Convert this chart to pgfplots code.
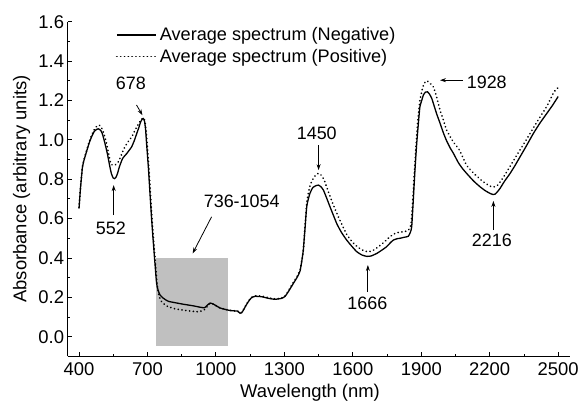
\documentclass[border=0pt]{standalone}
\usepackage{pgfplots}
\pgfplotsset{compat=1.18}
\usepackage{fontspec}
\setmainfont{Liberation Sans}
\usetikzlibrary{arrows.meta}
\definecolor{boxgray}{RGB}{192,192,192}
\begin{document}
\begin{tikzpicture}
\useasboundingbox (-67.6bp,-47.6bp) rectangle (514.4bp,356.4bp);
\begin{axis}[
  scale only axis, width=502bp, height=334.7bp,
  xmin=350, xmax=2550, ymin=-0.1, ymax=1.6,
  axis x line*=bottom, axis y line*=left,
  axis line style={line width=0.9bp},
  every tick/.style={black, line width=0.9bp},
  tick align=inside,
  major tick length=4.5bp, minor tick length=2.5bp,
  xtick={400,700,...,2500}, minor x tick num=1,
  ytick={0,0.2,...,1.6}, minor y tick num=1,
  /pgf/number format/assume math mode=true,
  ticklabel style={font=\fontsize{18.5}{21}\selectfont},
  xticklabel style={/pgf/number format/set thousands separator={}, yshift=-3bp},
  yticklabel style={/pgf/number format/fixed, /pgf/number format/fixed zerofill, /pgf/number format/precision=1},
  xlabel={Wavelength (nm)},
  ylabel={Absorbance (arbitrary units)},
  label style={font=\fontsize{18.5}{21}\selectfont},
  xlabel style={at={(axis description cs:0.483,-0.110)}, anchor=center},
  ylabel style={at={(axis description cs:-0.0914,0.5)}, anchor=center},
  legend style={at={(axis description cs:0.09,0.995)}, anchor=north west, draw=none, fill=none,
    font=\fontsize{18.2}{20}\selectfont, row sep=3bp},
  legend cell align=left,
  legend image code/.code={\draw[#1] (0bp,0bp) -- (39bp,0bp); \path (40bp,0bp);},
  clip=false,
]
\addplot[forget plot, fill=boxgray, draw=none] coordinates {(736,-0.045) (1054,-0.045) (1054,0.4) (736,0.4)} -- cycle;

\addplot[black, line width=1.3bp, smooth, tension=0.3] coordinates {
(400,0.652) (407,0.761) (415,0.86) (422,0.897) (433,0.94) (444,0.982) (455,1.015) (466,1.041)
(477,1.053) (485,1.056) (495,1.048) (502,1.032) (512,0.99) (524,0.931) (535,0.865) (542,0.828)
(550,0.806) (556,0.803) (562,0.81) (569,0.83) (577,0.863) (591,0.905) (609,0.93) (622,0.95)
(631,0.965) (642,0.995) (653,1.032) (663,1.065) (670,1.091) (677,1.105) (682,1.108) (687,1.095)
(692,1.05) (696,0.982) (704,0.86) (711,0.728) (718,0.60) (726,0.474) (733,0.37) (740,0.271)
(747,0.235) (755,0.212) (770,0.195) (791,0.180) (820,0.173) (857,0.165) (900,0.157) (930,0.150)
(950,0.147) (962,0.160) (975,0.171) (988,0.166) (1000,0.158) (1018,0.146) (1040,0.139) (1062,0.133)
(1084,0.131) (1095,0.130) (1106,0.119) (1113,0.122) (1120,0.134) (1130,0.155) (1142,0.178) (1155,0.197)
(1171,0.205) (1201,0.203) (1230,0.195) (1259,0.190) (1288,0.195) (1303,0.205) (1317,0.228) (1339,0.27)
(1355,0.30) (1369,0.335) (1383,0.44) (1398,0.66) (1412,0.728) (1425,0.758) (1440,0.768) (1449,0.77)
(1460,0.762) (1471,0.745) (1485,0.705) (1500,0.66) (1529,0.576) (1550,0.53) (1573,0.491) (1595,0.46)
(1617,0.432) (1640,0.415) (1661,0.408) (1680,0.41) (1705,0.423) (1725,0.438) (1748,0.457) (1765,0.478)
(1778,0.491) (1795,0.498) (1807,0.500) (1825,0.505) (1843,0.510) (1852,0.53) (1858,0.558) (1865,0.694)
(1872,0.84) (1880,0.982) (1887,1.08) (1894,1.168) (1902,1.20) (1909,1.227) (1918,1.242) (1927,1.244)
(1936,1.232) (1946,1.21) (1957,1.17) (1968,1.13) (1982,1.085) (1997,1.035) (2011,0.995) (2026,0.96)
(2041,0.931) (2062,0.885) (2080,0.855) (2099,0.829) (2130,0.79) (2158,0.761) (2180,0.742) (2201,0.728)
(2215,0.722) (2223,0.724) (2235,0.738) (2245,0.753) (2265,0.79) (2289,0.829) (2310,0.868) (2333,0.914)
(2360,0.968) (2391,1.032) (2420,1.085) (2450,1.134) (2475,1.175) (2500,1.22)
};
\addlegendentry{Average spectrum (Negative)}

\addplot[black, line width=1.9bp, line cap=round, dash pattern=on 0.01bp off 3.8bp, smooth, tension=0.3] coordinates {
(400,0.655) (407,0.765) (415,0.865) (422,0.90) (433,0.945) (444,0.987) (455,1.022) (466,1.05)
(477,1.068) (488,1.075) (497,1.065) (505,1.045) (517,0.999) (528,0.94) (539,0.88) (545,0.873)
(552,0.87) (560,0.874) (572,0.888) (583,0.915) (594,0.948) (612,0.985) (631,1.015) (642,1.04)
(653,1.066) (663,1.085) (672,1.10) (680,1.112) (686,1.105) (692,1.07) (698,0.99) (706,0.86)
(713,0.728) (720,0.60) (728,0.474) (735,0.37) (742,0.27) (750,0.21) (762,0.178) (784,0.156)
(820,0.142) (857,0.135) (890,0.13) (916,0.127) (935,0.13) (952,0.139) (965,0.158) (975,0.17)
(988,0.166) (1000,0.158) (1018,0.146) (1040,0.139) (1062,0.134) (1084,0.131) (1095,0.130) (1106,0.121)
(1113,0.124) (1120,0.136) (1130,0.157) (1142,0.18) (1155,0.199) (1171,0.207) (1201,0.206) (1230,0.198)
(1259,0.192) (1288,0.197) (1303,0.207) (1317,0.232) (1339,0.275) (1355,0.305) (1369,0.34) (1383,0.44)
(1398,0.68) (1412,0.765) (1425,0.80) (1440,0.825) (1450,0.83) (1462,0.82) (1475,0.795) (1490,0.745)
(1515,0.668) (1540,0.6) (1573,0.52) (1600,0.478) (1625,0.452) (1650,0.436) (1666,0.432) (1685,0.436)
(1710,0.455) (1735,0.478) (1760,0.505) (1780,0.522) (1800,0.53) (1822,0.533) (1843,0.54) (1855,0.57)
(1862,0.68) (1870,0.84) (1878,0.99) (1886,1.11) (1894,1.2) (1903,1.25) (1912,1.285) (1924,1.30)
(1935,1.29) (1953,1.269) (1968,1.215) (1982,1.151) (1997,1.10) (2011,1.049) (2040,0.99) (2067,0.948)
(2099,0.87) (2130,0.83) (2158,0.80) (2180,0.78) (2201,0.765) (2216,0.76) (2235,0.77) (2260,0.81)
(2289,0.865) (2320,0.925) (2360,1.0) (2391,1.06) (2420,1.115) (2450,1.17) (2482,1.244) (2500,1.265)
};
\addlegendentry{Average spectrum (Positive)}

\begin{scope}[font=\fontsize{18}{20}\selectfont]
\node at (axis cs:627,1.286) {678};
\draw[-{Stealth[length=6bp,width=4bp]}, line width=0.8bp] (axis cs:652,1.177) -- (axis cs:678,1.125);
\node at (axis cs:540,0.55) {552};
\draw[-{Stealth[length=6bp,width=4bp]}, line width=0.8bp] (axis cs:552,0.618) -- (axis cs:552,0.77);
\node at (axis cs:1113,0.69) {736-1054};
\draw[-{Stealth[length=6bp,width=4bp]}, line width=0.8bp] (axis cs:981,0.609) -- (axis cs:898,0.423);
\node at (axis cs:1442,1.032) {1450};
\draw[-{Stealth[length=6bp,width=4bp]}, line width=0.8bp] (axis cs:1450,0.973) -- (axis cs:1450,0.846);
\node at (axis cs:1664,0.17) {1666};
\draw[-{Stealth[length=6bp,width=4bp]}, line width=0.8bp] (axis cs:1666,0.228) -- (axis cs:1666,0.364);
\node at (axis cs:2187,1.294) {1928};
\draw[-{Stealth[length=6bp,width=4bp]}, line width=0.8bp] (axis cs:2082,1.303) -- (axis cs:1982,1.303);
\node at (axis cs:2209,0.491) {2216};
\draw[-{Stealth[length=6bp,width=4bp]}, line width=0.8bp] (axis cs:2216,0.542) -- (axis cs:2216,0.69);
\end{scope}
\end{axis}
\end{tikzpicture}
\end{document}
